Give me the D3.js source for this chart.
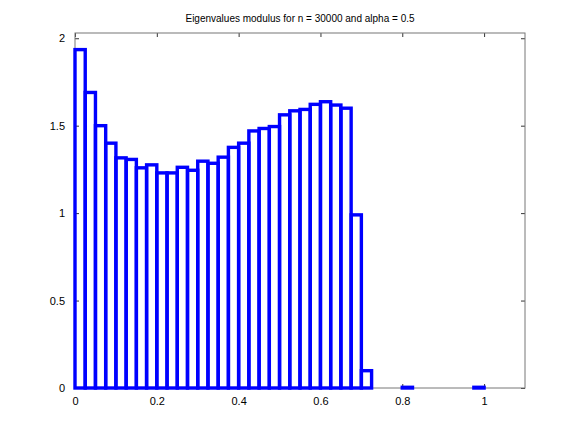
<!DOCTYPE html>
<html>
<head>
<meta charset="utf-8">
<script src="https://cdn.jsdelivr.net/npm/d3@7"></script>
<style>
  html, body { margin: 0; padding: 0; background: #fff; }
  svg { display: block; }
  text { font-family: "Liberation Sans", Arial, sans-serif; fill: #000; }
</style>
</head>
<body>
<script>
// histogram bins: left edge of each non-empty bin (width 0.025)
var binStarts = [
    0, 0.025, 0.05, 0.075, 0.1, 0.125, 0.15, 0.175, 0.2, 0.225,
    0.25, 0.275, 0.3, 0.325, 0.35, 0.375, 0.4, 0.425, 0.45, 0.475,
    0.5, 0.525, 0.55, 0.575, 0.6, 0.625, 0.65, 0.675, 0.7,
    0.8, 0.975
];
var binWidth = 0.025;

// normalised density per bin
var density = [
    1.935, 1.69, 1.50, 1.40, 1.316, 1.307, 1.259, 1.276, 1.23, 1.23,
    1.262, 1.245, 1.297, 1.285, 1.32, 1.376, 1.40, 1.47, 1.484, 1.495,
    1.562, 1.585, 1.593, 1.622, 1.637, 1.618, 1.60, 0.99, 0.099,
    0.004, 0.004
];

var xTicks = [0, 0.2, 0.4, 0.6, 0.8, 1];
var yTicks = [0, 0.5, 1, 1.5, 2];
var titleText = 'Eigenvalues modulus for n = 30000 and alpha = 0.5';

var width = 581, height = 436;
var margin = { top: 33, right: 56, bottom: 48, left: 75 };
var plotW = width - margin.left - margin.right;
var plotH = height - margin.top - margin.bottom;

var x = d3.scaleLinear().domain([0, 1.1]).range([0, plotW]);
var y = d3.scaleLinear().domain([0, 2.03]).range([plotH, 0]);

var svg = d3.select('body').append('svg')
    .attr('width', width)
    .attr('height', height);

var g = svg.append('g')
    .attr('transform', 'translate(' + margin.left + ',' + margin.top + ')');

var bins = binStarts.map(function(start, i) {
    return { x0: start, x1: start + binWidth, value: density[i] };
});

// axes with inward ticks on all four sides
var axisStyle = function(sel) {
    sel.select('.domain').remove();
    sel.selectAll('.tick line').attr('stroke', '#000').attr('stroke-width', 0.8);
    sel.selectAll('.tick text')
      .attr('font-size', 11)
      .style('font-family', '"Liberation Sans", Arial, sans-serif');
};

g.append('g')
    .attr('transform', 'translate(0,' + plotH + ')')
    .call(d3.axisBottom(x).tickValues(xTicks).tickFormat(d3.format('')).tickSizeInner(-4).tickSizeOuter(0).tickPadding(9))
    .call(axisStyle);

g.append('g')
    .call(d3.axisTop(x).tickValues(xTicks).tickFormat('').tickSizeInner(-4).tickSizeOuter(0))
    .call(axisStyle);

g.append('g')
    .call(d3.axisLeft(y).tickValues(yTicks).tickFormat(d3.format('')).tickSizeInner(-4).tickSizeOuter(0).tickPadding(10))
    .call(axisStyle);

g.append('g')
    .attr('transform', 'translate(' + plotW + ',0)')
    .call(d3.axisRight(y).tickValues(yTicks).tickFormat('').tickSizeInner(-4).tickSizeOuter(0))
    .call(axisStyle);

// box
g.append('rect')
    .attr('x', 0)
    .attr('y', 0)
    .attr('width', plotW)
    .attr('height', plotH)
    .attr('fill', 'none')
    .attr('stroke', '#777')
    .attr('stroke-width', 1);

// bars as outlines only, drawn above the frame
g.selectAll('rect.bar')
  .data(bins)
  .enter()
    .append('rect')
      .attr('class', 'bar')
      .attr('x', function(d) { return x(d.x0); })
      .attr('y', function(d) { return y(d.value); })
      .attr('width', function(d) { return x(d.x1) - x(d.x0); })
      .attr('height', function(d) { return y(0) - y(d.value); })
      .attr('fill', 'none')
      .attr('stroke', '#0000ff')
      .attr('stroke-width', 3.4);

svg.append('text')
    .attr('x', margin.left + plotW / 2)
    .attr('y', 22)
    .attr('text-anchor', 'middle')
    .attr('font-size', 10)
    .text(titleText);
</script>
</body>
</html>
